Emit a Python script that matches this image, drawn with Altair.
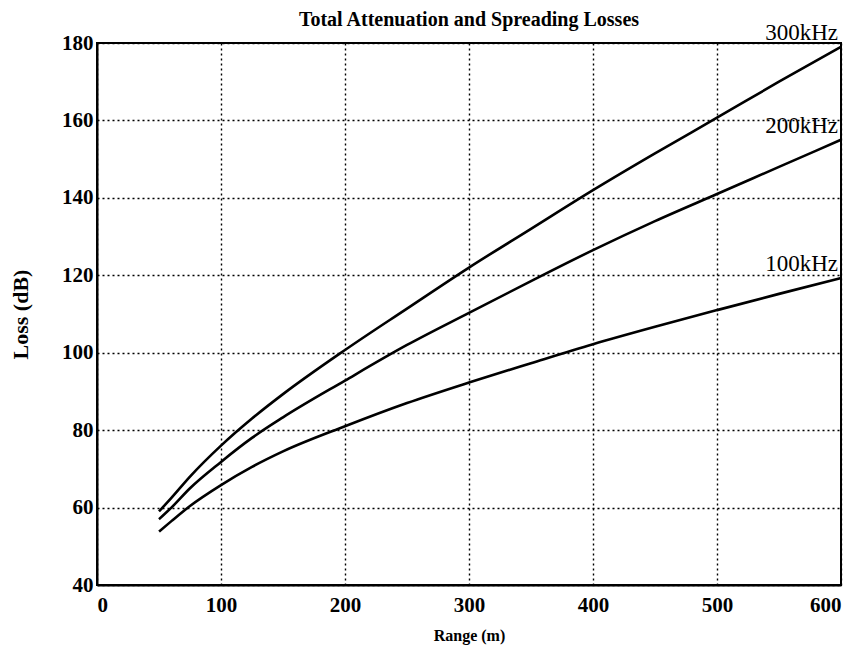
import altair as alt
import pandas as pd

ranges = [50, 60, 75, 100, 125, 150, 200, 250, 300, 350, 400, 450, 500, 550, 600]
loss_300 = [59.0, 62.5, 68.0, 76.0, 83.0, 89.3, 100.7, 111.4, 122.0, 132.0, 142.0, 151.5, 160.7, 170.0, 179.0]
loss_200 = [57.0, 60.0, 65.0, 71.8, 78.0, 83.3, 92.8, 102.0, 110.3, 118.5, 126.5, 134.0, 141.0, 148.0, 155.0]
loss_100 = [53.8, 56.5, 60.4, 65.8, 70.5, 74.5, 81.0, 87.0, 92.3, 97.3, 102.2, 106.7, 111.0, 115.2, 119.3]
series_names = ["300kHz", "200kHz", "100kHz"]
x_ticks = [0, 100, 200, 300, 400, 500, 600]
y_ticks = [40, 60, 80, 100, 120, 140, 160, 180]

rows = []
for name, vals in zip(series_names, [loss_300, loss_200, loss_100]):
    for r, v in zip(ranges, vals):
        rows.append({"range": r, "loss": v, "freq": name})
df = pd.DataFrame(rows)
labels_df = df[df["range"] == ranges[-1]]

FONT = "Liberation Serif"

x = alt.X("range:Q", scale=alt.Scale(domain=[0, 600], nice=False, zero=False),
          axis=alt.Axis(values=x_ticks, title="Range (m)", grid=True, labelPadding=9,
                        titlePadding=12, format="d", titleFontSize=16))
y = alt.Y("loss:Q", scale=alt.Scale(domain=[40, 180], nice=False, zero=False),
          axis=alt.Axis(values=y_ticks, title="Loss (dB)", grid=True, labelPadding=4,
                        titlePadding=29, format="d", titleFontSize=22))

lines = alt.Chart(df).mark_line(color="black", strokeWidth=2.6, interpolate="monotone").encode(
    x=x, y=y, detail="freq:N"
)

texts = alt.Chart(labels_df).mark_text(
    align="right", baseline="bottom", dx=-3, dy=-2, font=FONT, fontSize=23, color="black"
).encode(x="range:Q", y="loss:Q", text="freq:N")

chart = alt.layer(lines, texts).properties(
    width=744, height=542,
    title=alt.TitleParams("Total Attenuation and Spreading Losses", font=FONT, fontSize=20,
                          fontWeight="bold", color="black", anchor="middle", offset=16, dy=24),
    autosize=alt.AutoSizeParams(type="none"),
    padding={"left": 89, "top": 35, "right": 11, "bottom": 68},
).configure_axis(
    domain=True, domainColor="black", domainWidth=2,
    ticks=False, tickSize=0,
    gridColor="black", gridDash=[2, 3], gridWidth=1.4, gridOpacity=1,
    labelFont=FONT, labelFontSize=21, labelFontWeight="bold", labelColor="black",
    titleFont=FONT, titleFontWeight="bold", titleColor="black",
).configure_view(
    stroke="black", strokeWidth=2
)

chart.save("out.html", embed_options={"renderer": "svg", "actions": False})
